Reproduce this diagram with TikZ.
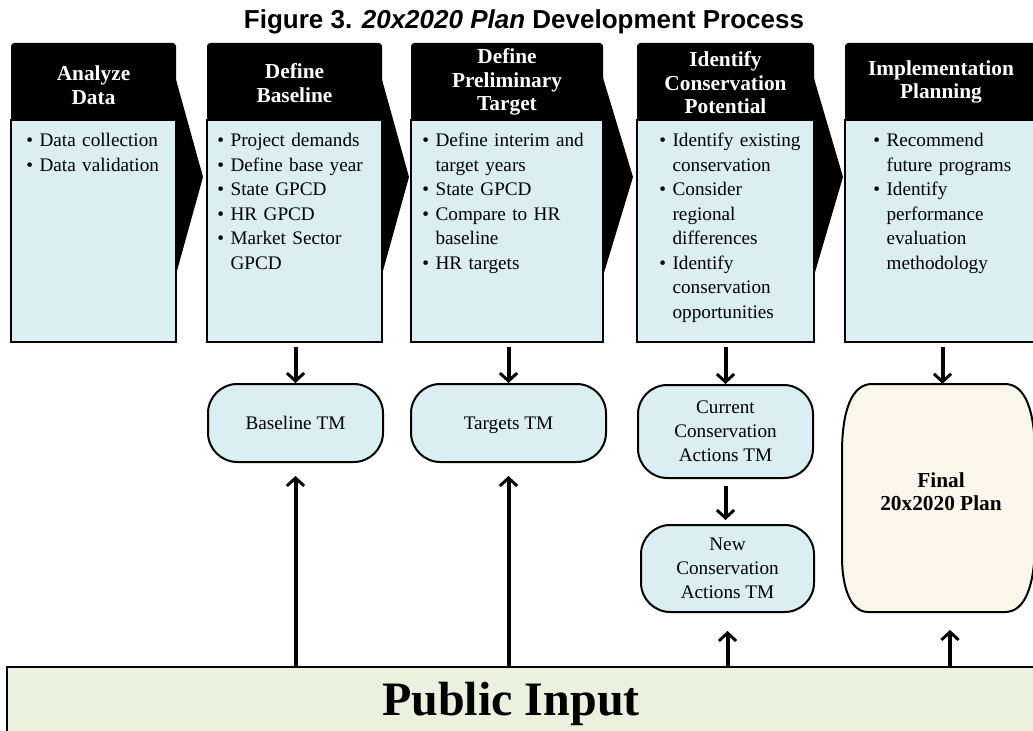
\documentclass[tikz,border=0pt]{standalone}
\usepackage{fontspec}
\setmainfont{Liberation Serif}
\newfontfamily\arialf{Liberation Sans}
\usetikzlibrary{arrows.meta,fit,calc}
\definecolor{lblue}{HTML}{DAEEF3}
\definecolor{lgreen}{HTML}{EBF1DE}
\definecolor{cream}{HTML}{FAF6EA}
\newcommand{\bitem}[1]{\par\noindent\hangindent=10pt\hangafter=1\makebox[10pt][l]{\textbullet}#1\par}
\tikzset{
  hdr/.style={fill=black, rounded corners=2.5pt, inner sep=0pt},
  hdrtxt/.style={inner sep=0pt, text=white, align=center,
    font=\fontsize{16pt}{17.6pt}\selectfont\bfseries},
  bodybox/.style={draw=black, line width=1.3pt, fill=lblue, inner sep=0pt},
  bodytxt/.style={anchor=north west, inner sep=0pt, text width=170pt,
    font=\fontsize{14.4pt}{18.4pt}\selectfont},
  tm/.style={draw=black, line width=1.5pt, fill=lblue, rounded corners=22pt, inner sep=0pt},
  tmtxt/.style={inner sep=0pt, align=center, font=\fontsize{14.4pt}{18pt}\selectfont},
  chev/.style={fill=black},
  arr/.style={line width=3pt, -{Straight Barb[length=6pt,width=13pt,line width=2.2pt]}},
}
\begin{document}
\begin{tikzpicture}[x=0.75pt, y=-0.75pt]
\path[use as bounding box, clip] (0,0) rectangle (1033,731);
\fill[white] (0,0) rectangle (1033,731);

% title
\node[anchor=base, inner sep=0pt, font=\arialf\fontsize{19.5pt}{22pt}\selectfont\bfseries] (title) at (524,29)
  {Figure 3. \textit{20x2020 Plan} Development Process};

% chevrons (behind boxes)
\fill[chev] (170,58) -- (203,177) -- (170,296) -- cycle;
\fill[chev] (376,58) -- (409,177) -- (376,296) -- cycle;
\fill[chev] (597,58) -- (633,177) -- (597,296) -- cycle;
\fill[chev] (808,58) -- (843,177) -- (808,296) -- cycle;

% headers
\node[hdr, fit={(11,43) (176,121)}] (h1) {};
\node[hdr, fit={(207,43) (382,121)}] (h2) {};
\node[hdr, fit={(411,43) (603,121)}] (h3) {};
\node[hdr, fit={(637,43) (814,121)}] (h4) {};
\node[hdr, fit={(845,43) (1037,121)}] (h5) {};
\node[hdrtxt] (ht1) at (h1.center |- 0,85) {Analyze\\Data};
\node[hdrtxt] (ht2) at (h2.center |- 0,83) {Define\\Baseline};
\node[hdrtxt] (ht3) at (h3.center |- 0,82) {Define\\Preliminary\\Target};
\node[hdrtxt] (ht4) at (h4.center |- 0,83) {Identify\\Conservation\\Potential};
\node[hdrtxt] (ht5) at (941,82) {Implementation\\Planning};

% bodies
\node[bodybox, fit={(11,120) (176,342)}] (b1) {};
\node[bodybox, fit={(207,120) (382,342)}] (b2) {};
\node[bodybox, fit={(411,120) (603,342)}] (b3) {};
\node[bodybox, fit={(637,120) (814,342)}] (b4) {};
\node[bodybox, fit={(845,120) (1040,342)}] (b5) {};

\node[bodytxt] (t1) at (26,122) {\raggedright\bitem{Data collection}\bitem{Data validation}};
\node[bodytxt] (t2) at (217,122) {\raggedright\bitem{Project demands}\bitem{Define base year}\bitem{State GPCD}\bitem{HR GPCD}\bitem{Market Sector\newline GPCD}};
\node[bodytxt] (t3) at (422,122) {\raggedright\bitem{Define interim and\newline target years}\bitem{State GPCD}\bitem{Compare to HR\newline baseline}\bitem{HR targets}};
\node[bodytxt] (t4) at (659,122) {\raggedright\bitem{Identify existing\newline conservation}\bitem{Consider\newline regional\newline differences}\bitem{Identify\newline conservation\newline opportunities}};
\node[bodytxt] (t5) at (873,122) {\raggedright\bitem{Recommend\newline future programs}\bitem{Identify\newline performance\newline evaluation\newline methodology}};

% TM boxes
\node[tm, fit={(208,384) (383,462)}] (base) {};
\node[tm, fit={(411,384) (606,462)}] (targ) {};
\node[tm, fit={(638,385) (813,478)}] (curr) {};
\node[tm, fit={(641,525) (814,612)}] (new) {};
\node[tmtxt] (baset) at (base.center) {Baseline TM};
\node[tmtxt, anchor=base] (targt) at ($(targ.center)+(0,6)$) {Targets TM};
\node[tmtxt] (currt) at (curr.center) {Current\\Conservation\\Actions TM};
\node[tmtxt] (newt) at (new.center) {New\\Conservation\\Actions TM};

% final plan
\draw[line width=1.5pt, fill=cream] (872,384) -- (1005,384)
  .. controls (1025,384) and (1035,410) .. (1035,455) -- (1035,541)
  .. controls (1035,586) and (1025,612) .. (1005,612) -- (868,612)
  .. controls (850,612) and (842,586) .. (842,557) -- (842,453)
  .. controls (842,410) and (852,384) .. (872,384) -- cycle;
\node[fit={(842,384) (1035,612)}, inner sep=0pt] (final) {};
\node[align=center, inner sep=0pt, font=\fontsize{16pt}{17.5pt}\selectfont\bfseries] (finaltxt)
  at ($(final.center)+(2.5,-6)$) {Final\\20x2020 Plan};

% public input
\node[draw=black, line width=1.5pt, fill=lgreen, fit={(7,667) (1045,745)}, inner sep=0pt] (pub) {};
\node[anchor=base, inner sep=0pt, font=\fontsize{36pt}{40pt}\selectfont\bfseries] (pubtxt) at (511,715) {Public Input};

% down arrows
\draw[arr] ($(b2.south -| base.north)+(0,4)$) -- (base.north);
\draw[arr] ($(b3.south -| targ.north)+(0,4)$) -- (targ.north);
\draw[arr] ($(b4.south -| curr.north)+(0,4)$) -- (curr.north);
\draw[arr] ($(b5.south)+(0,4)$) -- (b5.south |- final.north);
\draw[arr] ($(curr.south)+(0,7)$) -- ($(curr.south |- new.north)+(0,-4)$);

% up arrows
\coordinate (u5) at (950,630);
\draw[arr] (base.south |- pub.north) -- ($(base.south)+(0,13)$);
\draw[arr] (targ.south |- pub.north) -- ($(targ.south)+(0,13)$);
\draw[arr] (new.south |- pub.north) -- ($(new.south)+(0,18)$);
\draw[arr] (u5 |- pub.north) -- (u5);
\end{tikzpicture}
\end{document}
